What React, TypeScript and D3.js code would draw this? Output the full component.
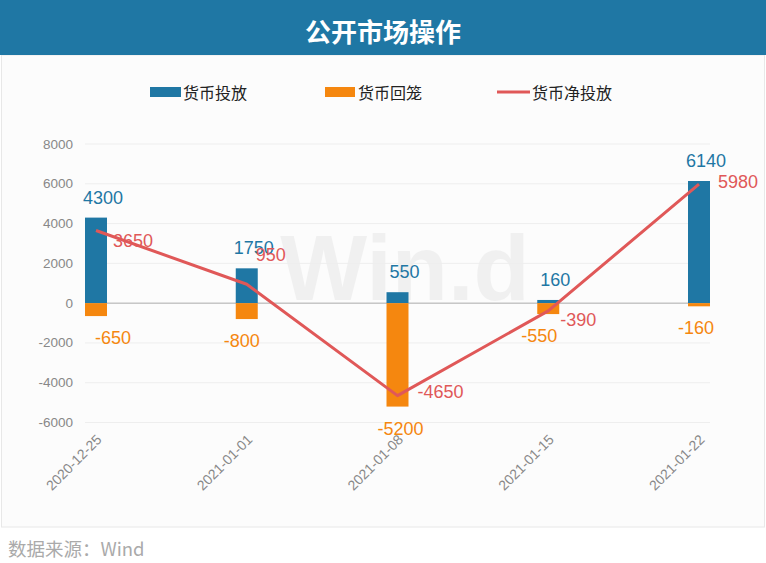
import React from "react";
import * as d3 from "d3";

const categories = ["2020-12-25", "2021-01-01", "2021-01-08", "2021-01-15", "2021-01-22"];
const injection = [4300, 1750, 550, 160, 6140];
const withdrawal = [-650, -800, -5200, -550, -160];
const netInjection = [3650, 950, -4650, -390, 5980];
const yTicks = [8000, 6000, 4000, 2000, 0, -2000, -4000, -6000];

// label offsets (style only)
const orangeDx = [17, -5, 3, -9, -3];
const redOffset: [number, number][] = [[37, 10], [24, -29], [43, -4], [30, 9], [39, -2]];

const BLUE = "#1f77a4";
const ORANGE = "#f5870f";
const RED = "#e05858";
const NUM_FONT = "'Liberation Sans', Arial, 'Noto Sans CJK SC', sans-serif";
const CJK_FONT = "'Noto Sans CJK SC', 'Liberation Sans', sans-serif";

export default function App() {
  const W = 766, H = 563;
  const x = d3.scalePoint<string>().domain(categories).range([96, 699]);
  const y = d3.scaleLinear().domain([-6000, 8000]).range([422.5, 144]);
  const bw = 22;
  const line = d3
    .line<number>()
    .x((_, i) => x(categories[i])!)
    .y((d) => y(d));

  return (
    <svg width={W} height={H} style={{ position: "absolute", left: 0, top: 0 }}>
      <rect x={0} y={0} width={W} height={H} fill="#ffffff" />
      <rect x={1.5} y={55} width={W - 3} height={472} fill="#fcfcfc" stroke="#e8e8e8" />
      <rect x={0} y={0} width={W} height={55} fill={BLUE} />
      <text x={383} y={30} textAnchor="middle" dominantBaseline="central" fill="#fff"
        fontSize={26} fontWeight="bold" fontFamily={CJK_FONT}>公开市场操作</text>

      {/* legend */}
      <rect x={150} y={87} width={31} height={10} fill={BLUE} />
      <text x={183} y={92} dominantBaseline="central" fontSize={16} fontFamily={CJK_FONT} fill="#222">货币投放</text>
      <rect x={325} y={87} width={30} height={10} fill={ORANGE} />
      <text x={358} y={92} dominantBaseline="central" fontSize={16} fontFamily={CJK_FONT} fill="#222">货币回笼</text>
      <line x1={497} x2={530} y1={92} y2={92} stroke={RED} strokeWidth={3} />
      <text x={532} y={92} dominantBaseline="central" fontSize={16} fontFamily={CJK_FONT} fill="#222">货币净投放</text>

      {/* watermark */}
      <text x={405} y={268} textAnchor="middle" dominantBaseline="central" fontSize={92}
        fontWeight="bold" fontFamily={NUM_FONT} fill="#000" opacity={0.045}>Win.d</text>

      {/* grid */}
      {yTicks.map((t) => (
        <g key={t}>
          <line x1={85} x2={710} y1={y(t)} y2={y(t)} stroke={t === 0 ? "#aaaaaa" : "#eeeeee"} strokeWidth={1} />
          <text x={73} y={y(t)} textAnchor="end" dominantBaseline="central" fontSize={13.5}
            fontFamily={NUM_FONT} fill="#888">{t}</text>
        </g>
      ))}

      {/* x labels */}
      {categories.map((c) => (
        <text key={c} transform={`translate(${x(c)! + 3},${437}) rotate(-45)`} textAnchor="end"
          dominantBaseline="central" fontSize={14} fontFamily={NUM_FONT} fill="#888">{c}</text>
      ))}

      {/* bars */}
      {categories.map((c, i) => (
        <g key={c}>
          <rect x={x(c)! - bw / 2} y={y(injection[i])} width={bw} height={y(0) - y(injection[i])} fill={BLUE} />
          <rect x={x(c)! - bw / 2} y={y(0)} width={bw} height={y(withdrawal[i]) - y(0)} fill={ORANGE} />
        </g>
      ))}

      {/* line */}
      <path d={line(netInjection)!} fill="none" stroke={RED} strokeWidth={3} strokeLinejoin="round" />

      {/* labels */}
      {categories.map((c, i) => (
        <g key={c} fontFamily={NUM_FONT} fontSize={18}>
          <text x={x(c)! + 7} y={y(injection[i]) - 20} textAnchor="middle" dominantBaseline="central" fill={BLUE}>{injection[i]}</text>
          <text x={x(c)! + orangeDx[i]} y={y(withdrawal[i]) + 22} textAnchor="middle" dominantBaseline="central" fill={ORANGE}>{withdrawal[i]}</text>
          <text x={x(c)! + redOffset[i][0]} y={y(netInjection[i]) + redOffset[i][1]} textAnchor="middle" dominantBaseline="central" fill={RED}>{netInjection[i]}</text>
        </g>
      ))}

      <text x={8} y={548} dominantBaseline="central" fontSize={18.5} fontFamily={CJK_FONT} fill="#aaaaaa">数据来源：Wind</text>
    </svg>
  );
}
